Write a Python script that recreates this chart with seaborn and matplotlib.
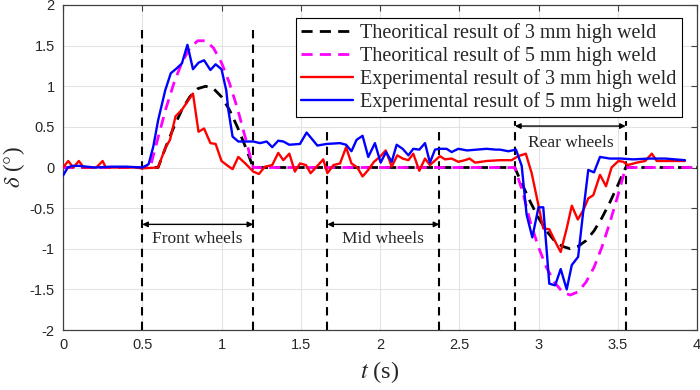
import matplotlib
matplotlib.use("Agg")
import matplotlib.pyplot as plt
import seaborn as sns
import pandas as pd

# ---------------- data ----------------
theo3_t = [0, 0.6, 0.65, 0.7, 0.75, 0.8, 0.85, 0.9, 0.95, 1.0, 1.05, 1.1, 1.15, 1.2,
           2.85, 2.9, 2.95, 3.0, 3.05, 3.1, 3.15, 3.2, 3.25, 3.3, 3.35, 3.4, 3.45, 3.5, 3.55, 4.0]
theo3_v = [0, 0, 0.26, 0.5, 0.71, 0.87, 0.97, 1.0, 0.97, 0.87, 0.71, 0.5, 0.26, 0,
           0, -0.22, -0.43, -0.62, -0.78, -0.9, -0.97, -1.0, -0.97, -0.9, -0.78, -0.62, -0.43, -0.22, 0, 0]

theo5_t = [0, 0.55, 0.6, 0.65, 0.7, 0.75, 0.8, 0.85, 0.9, 0.95, 1.0, 1.05, 1.1, 1.15, 1.2,
           2.85, 2.9, 2.95, 3.0, 3.05, 3.1, 3.15, 3.2, 3.25, 3.3, 3.35, 3.4, 3.45, 3.5, 3.55, 4.0]
theo5_v = [0, 0, 0.37, 0.73, 1.04, 1.29, 1.47, 1.56, 1.56, 1.47, 1.29, 1.04, 0.73, 0.37, 0,
           0, -0.3, -0.68, -0.98, -1.23, -1.41, -1.53, -1.57, -1.53, -1.41, -1.23, -0.98, -0.68, -0.35, 0, 0]

exp3_t = [0.0, 0.033, 0.065, 0.10, 0.13, 0.17, 0.21, 0.25, 0.27, 0.35, 0.45, 0.50, 0.60,
          0.645, 0.675, 0.71, 0.75, 0.82, 0.855, 0.89, 0.93, 0.963, 1.00, 1.04, 1.07, 1.106,
          1.15, 1.20, 1.236, 1.274, 1.32, 1.358, 1.39, 1.428, 1.463, 1.495, 1.533, 1.562,
          1.605, 1.642, 1.668, 1.706, 1.748, 1.786, 1.82, 1.857, 1.89, 1.926, 1.962, 1.999,
          2.036, 2.074, 2.109, 2.143, 2.179, 2.21, 2.248, 2.284, 2.315, 2.378, 2.41, 2.452,
          2.494, 2.536, 2.565, 2.60, 2.673, 2.757, 2.83, 2.872, 2.92, 2.957, 2.999, 3.03,
          3.068, 3.105, 3.14, 3.178, 3.21, 3.248, 3.284, 3.314, 3.346, 3.388, 3.426, 3.461,
          3.504, 3.535, 3.563, 3.62, 3.673, 3.715, 3.746, 3.83, 3.924]
exp3_v = [0.0, 0.08, 0.0, 0.08, 0.0, 0.0, 0.0, 0.08, 0.0, 0.0, 0.0, -0.01, 0.0,
          0.24, 0.34, 0.63, 0.71, 0.91, 0.44, 0.48, 0.30, 0.29, 0.08, 0.02, -0.02, 0.13,
          0.05, -0.05, -0.08, 0.01, 0.03, 0.18, 0.09, 0.17, -0.05, 0.05, 0.03, -0.07,
          0.02, 0.10, -0.07, 0.03, 0.05, 0.25, 0.05, 0.0, -0.11, -0.03, 0.07, 0.13,
          0.21, 0.01, 0.15, 0.11, 0.09, 0.17, -0.04, 0.11, 0.03, 0.14, 0.10, 0.11,
          0.07, 0.09, 0.11, 0.06, 0.08, 0.09, 0.09, 0.14, 0.17, -0.07, -0.46, -0.75,
          -0.76, -0.91, -1.04, -0.75, -0.47, -0.64, -0.52, -0.38, -0.34, -0.09, -0.23, 0.0,
          0.08, 0.07, 0.03, 0.06, 0.08, 0.17, 0.08, 0.08, 0.08]

exp5_t = [0.0, 0.03, 0.06, 0.1, 0.2, 0.3, 0.4, 0.5, 0.54, 0.57, 0.60, 0.645, 0.68, 0.717,
          0.75, 0.785, 0.82, 0.855, 0.89, 0.93, 0.963, 1.00, 1.03, 1.043, 1.07, 1.106, 1.20,
          1.243, 1.285, 1.32, 1.358, 1.39, 1.428, 1.495, 1.537, 1.605, 1.663, 1.748, 1.786,
          1.82, 1.852, 1.89, 1.926, 1.968, 2.004, 2.038, 2.074, 2.105, 2.143, 2.179, 2.21,
          2.248, 2.284, 2.315, 2.347, 2.374, 2.42, 2.452, 2.494, 2.55, 2.61, 2.673, 2.73,
          2.757, 2.81, 2.858, 2.894, 2.925, 2.961, 3.0, 3.03, 3.068, 3.105, 3.14, 3.178,
          3.21, 3.25, 3.28, 3.314, 3.35, 3.388, 3.45, 3.52, 3.598, 3.70, 3.80, 3.924]
exp5_v = [-0.10, 0.0, 0.02, 0.02, 0.0, 0.01, 0.01, 0.0, 0.04, 0.26, 0.58, 0.95, 1.16, 1.22,
          1.28, 1.51, 1.21, 1.29, 1.32, 1.20, 1.27, 1.21, 0.95, 0.71, 0.38, 0.32, 0.32,
          0.30, 0.32, 0.25, 0.33, 0.32, 0.28, 0.29, 0.43, 0.27, 0.29, 0.30, 0.28,
          0.20, 0.34, 0.39, 0.13, 0.30, 0.06, 0.19, 0.07, 0.28, 0.23, 0.15, 0.23,
          0.22, 0.30, 0.06, 0.22, 0.23, 0.23, 0.19, 0.23, 0.21, 0.22, 0.23, 0.22,
          0.22, 0.20, 0.22, 0.02, -0.58, -0.86, -0.49, -0.49, -1.43, -1.45, -1.25, -1.50,
          -1.20, -1.10, -0.58, -0.03, -0.06, 0.13, 0.11, 0.11, 0.10, 0.11, 0.11, 0.09]

labels = ["Theoritical result of 3 mm high weld",
          "Theoritical result of 5 mm high weld",
          "Experimental result of 3 mm high weld",
          "Experimental result of 5 mm high weld"]

wheel_names = ["Front wheels", "Mid wheels", "Rear wheels"]
wheel_start = [0.5, 1.668, 2.852]
wheel_end = [1.2, 2.374, 3.55]
wheel_vline_top = [1.71, 0.50, 0.57]
wheel_arrow_y = [-0.70, -0.70, 0.51]
wheel_text_y = [-0.88, -0.88, 0.30]

xticks = [0, 0.5, 1, 1.5, 2, 2.5, 3, 3.5, 4]
xtick_labels = ["0", "0.5", "1", "1.5", "2", "2.5", "3", "3.5", "4"]
yticks = [-2, -1.5, -1, -0.5, 0, 0.5, 1, 1.5, 2]
ytick_labels = ["-2", "-1.5", "-1", "-0.5", "0", "0.5", "1", "1.5", "2"]

# ---------------- plot ----------------
sns.set_theme(style="white")
plt.rcParams["font.family"] = ["Liberation Sans", "DejaVu Sans"]
plt.rcParams["mathtext.fontset"] = "stix"

fig = plt.figure(figsize=(7.0, 3.9), dpi=100)
ax = fig.add_axes([63 / 700, 1 - 330 / 390, 634 / 700, 325 / 390])

df_t3 = pd.DataFrame({"t": theo3_t, "v": theo3_v})
df_t5 = pd.DataFrame({"t": theo5_t, "v": theo5_v})
df_e3 = pd.DataFrame({"t": exp3_t, "v": exp3_v})
df_e5 = pd.DataFrame({"t": exp5_t, "v": exp5_v})

# vertical dashed wheel markers
for s, e, top in zip(wheel_start, wheel_end, wheel_vline_top):
    for xx in (s, e):
        ax.plot([xx, xx], [-2, top], color="black", lw=1.5, ls=(0, (4, 3)), zorder=2)

sns.lineplot(data=df_t3, x="t", y="v", ax=ax, color="black", lw=2.0,
             estimator=None, sort=False, label=labels[0], zorder=3)
sns.lineplot(data=df_t5, x="t", y="v", ax=ax, color="#ff00ff", lw=2.0,
             estimator=None, sort=False, label=labels[1], zorder=3)
sns.lineplot(data=df_e3, x="t", y="v", ax=ax, color="#ff0000", lw=1.7,
             estimator=None, sort=False, label=labels[2], zorder=4)
sns.lineplot(data=df_e5, x="t", y="v", ax=ax, color="#0000ff", lw=1.7,
             estimator=None, sort=False, label=labels[3], zorder=4)
ax.lines[-4].set_dashes([4, 2.6])
ax.lines[-3].set_dashes([4, 2.6])

# arrows + texts
for name, s, e, ay, ty in zip(wheel_names, wheel_start, wheel_end, wheel_arrow_y, wheel_text_y):
    ax.annotate("", xy=(s, ay), xytext=(e, ay),
                arrowprops=dict(arrowstyle="<|-|>", color="black", lw=1.0,
                                mutation_scale=8, shrinkA=0, shrinkB=0), zorder=5)
    ax.text((s + e) / 2, ty, name, ha="center", va="center", fontsize=12.5,
            family=["Liberation Serif", "DejaVu Serif"], zorder=5)

ax.set_xlim(0, 4)
ax.set_ylim(-2, 2)
ax.set_xticks(xticks)
ax.set_xticklabels(xtick_labels)
ax.set_yticks(yticks)
ax.set_yticklabels(ytick_labels)
ax.grid(True, color="#e3e3e3", lw=0.8)
ax.set_axisbelow(True)
ax.tick_params(direction="in", length=4, width=0.8, color="#404040",
               top=True, right=True, labelsize=10.5, labelcolor="#262626", pad=6)
for sp in ax.spines.values():
    sp.set_color("#404040")
    sp.set_linewidth(0.9)

ax.set_xlabel("$t$ (s)", fontsize=17.5, family=["Liberation Serif", "DejaVu Serif"], labelpad=5)
ax.set_ylabel(r"$\delta$ ($\degree$)", fontsize=16.5, family=["Liberation Serif", "DejaVu Serif"], labelpad=2)

leg = ax.legend(loc="upper right", bbox_to_anchor=(0.976, 0.96), borderaxespad=0,
                prop={"family": "Liberation Serif", "size": 14.5},
                frameon=True, fancybox=False, framealpha=1, edgecolor="black",
                handlelength=2.6, handletextpad=0.35, labelspacing=0.16, borderpad=0.25)
leg.get_frame().set_linewidth(0.8)
leg.set_zorder(6)

fig.savefig("out.png", dpi=100)
